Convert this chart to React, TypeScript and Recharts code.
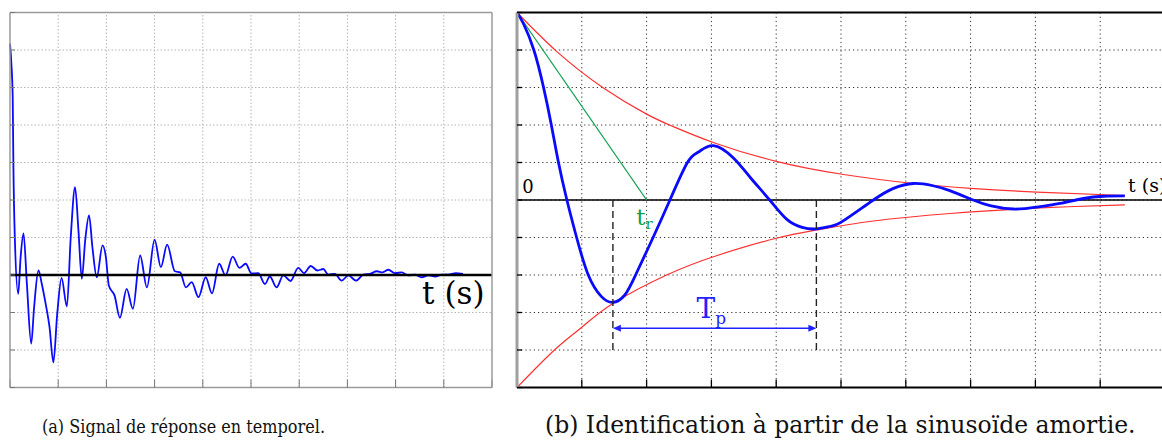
import { LineChart, Line, XAxis, YAxis, ReferenceLine, ReferenceDot } from 'recharts';

// ---- panel (a): measured response signal ----
const leftT = [0, 0.03, 0.056, 0.07, 0.1, 0.17, 0.22, 0.28, 0.35, 0.44, 0.5, 0.59, 0.66, 0.74, 0.82, 0.9, 0.98, 1.07, 1.18, 1.26, 1.35, 1.42, 1.49, 1.56, 1.64, 1.71, 1.8, 1.92, 1.99, 2.05, 2.17, 2.28, 2.42, 2.55, 2.7, 2.84, 3.0, 3.13, 3.26, 3.42, 3.53, 3.65, 3.77, 3.91, 4.06, 4.19, 4.34, 4.47, 4.62, 4.76, 4.89, 5.01, 5.15, 5.29, 5.39, 5.53, 5.67, 5.82, 5.98, 6.1, 6.24, 6.38, 6.5, 6.6, 6.74, 6.88, 7.02, 7.18, 7.33, 7.47, 7.61, 7.73, 7.85, 7.99, 8.13, 8.26, 8.4, 8.54, 8.68, 8.82, 8.96, 9.09, 9.25, 9.4];
const leftV = [6.17, 5.6, 4.74, 2.97, 1.0, -0.5, 0.47, 1.11, -0.23, -1.83, -0.86, 0.12, -0.24, -0.77, -1.39, -2.33, -1.03, -0.08, -0.84, 1.0, 2.34, 1.19, -0.1, 0.92, 1.59, 0.74, -0.06, 0.79, 0.47, -0.28, -0.55, -1.14, -0.37, -0.9, 0.52, -0.33, 0.94, 0.21, 0.81, 0.1, 0.07, -0.33, -0.19, -0.59, -0.06, -0.49, 0.3, -0.01, 0.49, 0.19, 0.3, 0.04, 0.05, -0.24, -0.04, -0.33, -0.01, -0.16, 0.19, 0.05, 0.24, 0.12, 0.16, 0.01, 0.03, -0.15, -0.01, -0.15, 0.01, 0.03, 0.1, 0.07, 0.14, 0.05, 0.07, -0.01, 0.01, -0.06, -0.01, -0.04, 0.01, 0.01, 0.05, 0.03];

// ---- panel (b): damped sinusoid ----
const blueT = [0, 0.1, 0.26, 0.41, 0.53, 0.64, 0.77, 0.92, 1.1, 1.3, 1.48, 1.66, 1.83, 2.1, 2.36, 2.63, 2.8, 3.03, 3.34, 3.6, 3.9, 4.16, 4.4, 4.62, 4.84, 5.04, 5.5, 5.81, 6.12, 6.42, 6.68, 7.04, 7.3, 7.66, 8.02, 8.38, 8.74, 9.05, 9.38];
const blueV = [5, 4.7, 4.0, 3.0, 2.0, 1.0, 0, -1.0, -2.0, -2.57, -2.73, -2.54, -2.0, -1.0, 0, 1.0, 1.28, 1.45, 1.12, 0.6, 0, -0.51, -0.73, -0.77, -0.7, -0.55, 0, 0.31, 0.44, 0.38, 0.25, 0, -0.15, -0.24, -0.19, -0.09, 0.04, 0.1, 0.11];

const upperT = [0, 0.62, 1.34, 2.0, 2.42, 3.05, 4.0, 5.04, 6.12, 7.0, 8.02, 9.38];
const upperV = [5, 3.95, 2.98, 2.29, 1.95, 1.52, 1.03, 0.68, 0.44, 0.31, 0.21, 0.12];
const lowerT = [0, 0.59, 1.01, 1.48, 2.31, 3.09, 4.0, 4.62, 5.5, 6.68, 7.66, 8.5, 9.38];
const lowerV = [-5, -3.98, -3.38, -2.76, -2.0, -1.48, -1.02, -0.8, -0.56, -0.36, -0.25, -0.18, -0.13];

const tangentT = [0, 2.0];
const tangentV = [5, 0];

const peakTimes = [1.48, 4.62]; // the two successive minima, T_p apart
const arrowLevel = -3.42;
const dashBottom = -4;

const gridT = [0, 1, 2, 3, 4, 5, 6, 7, 8, 9, 10];
const gridLeftV = [-3, -2, -1, 0, 1, 2, 3, 4, 5, 6, 7];
const gridRightV = [-5, -4, -3, -2, -1, 0, 1, 2, 3, 4, 5];

const captionA = '(a) Signal de réponse en temporel.';
const captionB = '(b) Identification à partir de la sinusoïde amortie.';

const zip = (ts: number[], vs: number[]) => ts.map((t, i) => ({ t, v: vs[i] }));
const leftData = zip(leftT, leftV);
const blueData = zip(blueT, blueV);
const upperData = zip(upperT, upperV);
const lowerData = zip(lowerT, lowerV);
const tangentData = zip(tangentT, tangentV);

const SERIF = 'DejaVu Serif';
const Blank = () => <g />;

const Arrow = (p: any) => {
  const { x1, y1, x2, y2 } = p;
  const c = '#2222ff';
  return (
    <g>
      <line x1={x1 + 3} y1={y1} x2={x2 - 3} y2={y2} stroke={c} strokeWidth={1.6} />
      <polygon points={`${x1},${y1} ${x1 + 8},${y1 - 3.5} ${x1 + 8},${y1 + 3.5}`} fill={c} />
      <polygon points={`${x2},${y2} ${x2 - 8},${y2 - 3.5} ${x2 - 8},${y2 + 3.5}`} fill={c} />
    </g>
  );
};

// dotted grid drawn as reference lines at every tick value
const gridLines = (xs: number[], ys: number[], stroke: string, dash: string) => [
  ...xs.slice(1, -1).map((x) => <ReferenceLine key={'gx' + x} x={x} stroke={stroke} strokeDasharray={dash} strokeWidth={1} />),
  ...ys.slice(1, -1).map((y) => <ReferenceLine key={'gy' + y} y={y} stroke={stroke} strokeDasharray={dash} strokeWidth={1} />),
];

function PanelA() {
  const frame = { stroke: '#9a9a9a', strokeWidth: 1.5 };
  const tl = { stroke: '#777', strokeWidth: 1 };
  return (
    <LineChart width={503} height={400} margin={{ top: 11.5, right: 10, bottom: 11.5, left: 9 }}>
      <XAxis dataKey="t" type="number" domain={[0, 10]} ticks={gridT} interval={0} tick={Blank} tickSize={-8} height={1} axisLine={frame} tickLine={tl} />
      <XAxis xAxisId="top" orientation="top" type="number" domain={[0, 10]} ticks={gridT} interval={0} tick={Blank} tickSize={-5} height={1} axisLine={frame} tickLine={tl} />
      <YAxis type="number" domain={[-3, 7]} ticks={gridLeftV} interval={0} tick={Blank} tickSize={-5} width={1} axisLine={frame} tickLine={tl} />
      <YAxis yAxisId="r" orientation="right" type="number" domain={[-3, 7]} ticks={gridLeftV} interval={0} tick={Blank} tickSize={-5} width={1} axisLine={frame} tickLine={tl} />
      {gridLines(gridT, gridLeftV, '#b5b5b5', '1.5 2')}
      <Line data={leftData} dataKey="v" type="monotone" stroke="#0a0aff" strokeWidth={1.8} dot={false} isAnimationActive={false} />
      <ReferenceLine y={0} stroke="#000" strokeWidth={2.5} />
      <ReferenceDot x={8.55} y={-0.76} r={0} shape={(p: any) => (
        <text x={p.cx} y={p.cy} fontFamily={SERIF} fontSize={31} fill="#000">t (s)</text>
      )} />
    </LineChart>
  );
}

function PanelB() {
  const black = { stroke: '#000', strokeWidth: 2 };
  const tl = { stroke: '#000', strokeWidth: 1.3 };
  return (
    <LineChart width={670} height={400} margin={{ top: 11.5, right: 11, bottom: 11.5, left: 9 }}>
      <XAxis dataKey="t" type="number" domain={[0, 10]} ticks={gridT} interval={0} tick={Blank} tickSize={-8} height={1} axisLine={black} tickLine={tl} />
      <XAxis xAxisId="top" orientation="top" type="number" domain={[0, 10]} ticks={gridT} interval={0} tick={Blank} tickSize={-5} height={1} axisLine={black} tickLine={tl} />
      <YAxis type="number" domain={[-5, 5]} ticks={gridRightV} interval={0} tick={Blank} tickSize={-5} width={1} axisLine={{ stroke: '#a0a0a0', strokeWidth: 3 }} tickLine={tl} />
      <YAxis yAxisId="r" orientation="right" type="number" domain={[-5, 5]} ticks={gridRightV} interval={0} tick={Blank} tickSize={-5} width={1} axisLine={black} tickLine={tl} />
      {gridLines(gridT, gridRightV, '#333', '1.2 3')}
      <ReferenceLine y={0} stroke="#000" strokeWidth={1.6} />
      <Line data={tangentData} dataKey="v" type="linear" stroke="#10a050" strokeWidth={1.3} dot={false} isAnimationActive={false} />
      <Line data={upperData} dataKey="v" type="natural" stroke="#ff3030" strokeWidth={1.2} dot={false} isAnimationActive={false} />
      <Line data={lowerData} dataKey="v" type="natural" stroke="#ff3030" strokeWidth={1.2} dot={false} isAnimationActive={false} />
      <Line data={blueData} dataKey="v" type="natural" stroke="#0a0aff" strokeWidth={2.8} dot={false} isAnimationActive={false} />
      {peakTimes.map((t) => (
        <ReferenceLine key={'d' + t} segment={[{ x: t, y: 0 }, { x: t, y: dashBottom }]} stroke="#222" strokeWidth={1.4} strokeDasharray="7 4" />
      ))}
      <ReferenceLine segment={[{ x: peakTimes[0], y: arrowLevel }, { x: peakTimes[1], y: arrowLevel }]} shape={Arrow} />
      <ReferenceDot x={0.08} y={0.19} r={0} shape={(p: any) => (
        <text x={p.cx} y={p.cy} fontFamily={SERIF} fontSize={18} fill="#000">0</text>
      )} />
      <ReferenceDot x={1.84} y={-0.67} r={0} shape={(p: any) => (
        <text x={p.cx} y={p.cy} fontFamily={SERIF} fontSize={23} fill="#10a050">t<tspan fontSize={15} dy={4}>r</tspan></text>
      )} />
      <ReferenceDot x={2.77} y={-3.15} r={0} shape={(p: any) => (
        <text x={p.cx} y={p.cy} fontFamily={SERIF} fontSize={28} fill="#2222ff">T<tspan fontSize={17} dy={6}>p</tspan></text>
      )} />
      <ReferenceDot x={9.43} y={0.21} r={0} shape={(p: any) => (
        <text x={p.cx} y={p.cy} fontFamily={SERIF} fontSize={19} fill="#000">t (s)</text>
      )} />
    </LineChart>
  );
}

export default function App() {
  return (
    <div style={{ position: 'absolute', left: 0, top: 0, width: 1162, height: 441, overflow: 'hidden', background: '#fff' }}>
      <div style={{ position: 'absolute', left: 0, top: 0 }}>
        <PanelA />
      </div>
      <div style={{ position: 'absolute', left: 507, top: 0 }}>
        <PanelB />
      </div>
      <svg style={{ position: 'absolute', left: 0, top: 400 }} width={1162} height={41}>
        <text x={42} y={33} fontFamily={SERIF} fontSize={18} fill="#111" textLength={283} lengthAdjust="spacingAndGlyphs">{captionA}</text>
        <text x={545} y={33} fontFamily={SERIF} fontSize={23.5} fill="#111">{captionB}</text>
      </svg>
    </div>
  );
}
